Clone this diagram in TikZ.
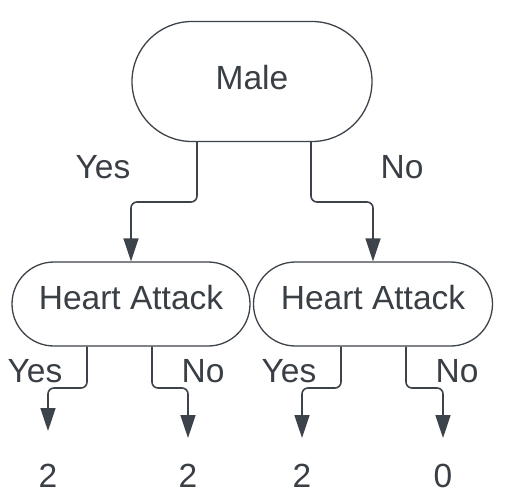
\documentclass[tikz,border=0pt]{standalone}
\usepackage{fontspec}
\setmainfont{Liberation Sans}
\usetikzlibrary{arrows.meta}
\definecolor{linec}{HTML}{3D434B}
\definecolor{textc}{HTML}{3A3F46}
\begin{document}
\begin{tikzpicture}[x=1pt,y=-1pt,
  every node/.style={text=textc,font=\fontsize{33.5}{40}\selectfont,inner sep=0pt},
  stadium/.style={draw=linec,line width=1.3pt,fill=white,rounded corners=#1},
  conn/.style={draw=linec,line width=1.6pt,rounded corners=6pt,-{Triangle[length=23pt,width=15pt]}}]
\useasboundingbox[fill=white] (0,0) rectangle (508,496);
% nodes
\node[stadium=60pt,minimum width=240pt,minimum height=120pt,text depth=8pt] (male) at (252,81.5) {Male};
\node[stadium=42pt,minimum width=238pt,minimum height=84pt,text depth=13pt] (ha1) at (131,304) {Heart Attack};
\node[stadium=42pt,minimum width=239pt,minimum height=84pt,text depth=13pt] (ha2) at (373,304) {Heart Attack};
% leaf values
\node (v1) at (48,475.5) {2};
\node (v2) at (188,475.5) {2};
\node (v3) at (302,475.5) {2};
\node (v4) at (443,475.5) {0};
\coordinate (t1) at (48,431);
\coordinate (t2) at (188,438);
\coordinate (t3) at (302,438);
\coordinate (t4) at (443,438);
% labels
\node (l1) at (103,167) {Yes};
\node (l2) at (402,167) {No};
\node (l3) at (35,371) {Yes};
\node (l4) at (203,371) {No};
\node (l5) at (289,371) {Yes};
\node (l6) at (457,371) {No};
% connectors
\draw[conn] (197,0 |- male.south) -- (197,202) -- (131,202) -- (ha1.north);
\draw[conn] (311,0 |- male.south) -- (311,202) -- (373,202) -- (ha2.north);
\draw[conn] (87,0 |- ha1.south) -- (87,388) -- (48,388) -- (t1);
\draw[conn] (152,0 |- ha1.south) -- (152,388) -- (188,388) -- (t2);
\draw[conn] (341,0 |- ha2.south) -- (341,388) -- (302,388) -- (t3);
\draw[conn] (406,0 |- ha2.south) -- (406,388) -- (443,388) -- (t4);
\end{tikzpicture}
\end{document}
